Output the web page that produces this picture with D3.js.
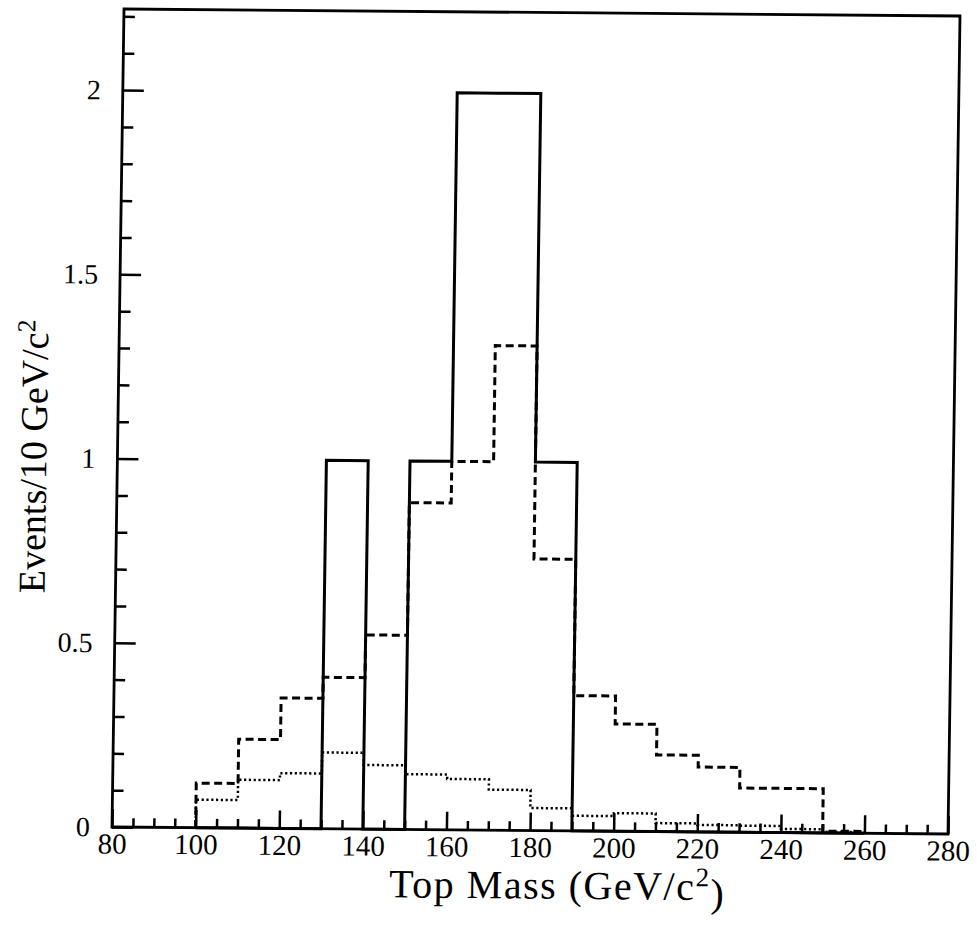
<!DOCTYPE html>
<html>
<head>
<meta charset="utf-8">
<script src="https://cdn.jsdelivr.net/npm/d3@7"></script>
<style>
  body { margin: 0; background: #fff; }
  text { font-family: "Liberation Serif", "DejaVu Serif", serif; fill: #000; }
</style>
</head>
<body>
<div id="chart"></div>
<script>
// Bins of 10 GeV/c^2, given by their lower edge.
const binStarts = [100, 110, 120, 130, 140, 150, 160, 170, 180, 190, 200, 210, 220, 230, 240, 250];

// Solid histogram (observed events).
const observed = [0, 0, 0, 1, 0, 1, 2, 2, 1, 0, 0, 0, 0, 0, 0, 0];

// Dashed histogram.
const dashedSeries = [0.121, 0.241, 0.354, 0.411, 0.527, 0.887, 1.0, 1.315, 0.737, 0.367, 0.291, 0.208, 0.176, 0.12, 0.12, 0.005];

// Dotted histogram.
const dottedSeries = [0.076, 0.131, 0.150, 0.207, 0.174, 0.150, 0.138, 0.110, 0.061, 0.041, 0.049, 0.023, 0.019, 0.018, 0.010, 0.003];

// Axis ticks and labels.
const xMajorTicks = [80, 100, 120, 140, 160, 180, 200, 220, 240, 260, 280];
const yMajorTicks = [0, 0.5, 1, 1.5, 2];
const yTickLabels = ['0', '0.5', '1', '1.5', '2'];

const binWidth = 10;
const width = 977, height = 935;
const plotW = 836, plotH = 818;

const svg = d3.select('#chart')
    .append('svg')
    .attr('width', width)
    .attr('height', height);

// The scanned figure is slightly skewed, so the whole plot sits in a sheared group.
const g = svg.append('g')
    .attr('transform', 'matrix(1,0.00837,-0.01467,1,124,9)');

const x = d3.scaleLinear().domain([80, 280]).range([0, plotW]);
const y = d3.scaleLinear().domain([0, 2.22]).range([plotH, 0]);

// Minor x ticks every 5 GeV
g.append('g')
    .attr('transform', `translate(0,${plotH})`)
    .call(d3.axisBottom(x)
        .tickValues(d3.range(85, 280, 5).filter(v => v % 20 !== 0))
        .tickSize(-9)
        .tickFormat(''))
    .call(a => a.select('.domain').remove())
    .call(a => a.selectAll('line').attr('stroke-width', 2.5));

// Major x ticks + labels
g.append('g')
    .attr('transform', `translate(0,${plotH})`)
    .call(d3.axisBottom(x)
        .tickValues(xMajorTicks)
        .tickSize(-18)
        .tickPadding(6)
        .tickFormat(d3.format('d')))
    .call(a => a.select('.domain').remove())
    .call(a => a.selectAll('line').attr('stroke-width', 2.5))
    .call(a => a.selectAll('text')
        .attr('font-size', 29)
        .attr('font-family', '"Liberation Serif", serif'));

// Minor y ticks every 0.1
g.append('g')
    .call(d3.axisLeft(y)
        .tickValues(d3.range(1, 23).map(v => v / 10).filter(v => Math.abs(v * 2 - Math.round(v * 2)) > 1e-6))
        .tickSize(-11)
        .tickFormat(''))
    .call(a => a.select('.domain').remove())
    .call(a => a.selectAll('line').attr('stroke-width', 2.5));

// Major y ticks + labels
g.append('g')
    .call(d3.axisLeft(y)
        .tickValues(yMajorTicks)
        .tickSize(-21)
        .tickPadding(22)
        .tickFormat((d, i) => yTickLabels[i]))
    .call(a => a.select('.domain').remove())
    .call(a => a.selectAll('line').attr('stroke-width', 2.5))
    .call(a => a.selectAll('text')
        .attr('font-size', 28)
        .attr('font-family', '"Liberation Serif", serif'));

// Frame
g.append('rect')
    .attr('x', 0)
    .attr('y', 0)
    .attr('width', plotW)
    .attr('height', plotH)
    .attr('fill', 'none')
    .attr('stroke', '#000')
    .attr('stroke-width', 2.8);

// Build a histogram outline from bin values
function stepPoints(values) {
    const pts = [[binStarts[0], 0]];
    values.forEach((v, i) => {
        pts.push([binStarts[i], v]);
        pts.push([binStarts[i] + binWidth, v]);
    });
    pts.push([binStarts[binStarts.length - 1] + binWidth, 0]);
    return pts;
}

const line = d3.line()
    .x(d => x(d[0]))
    .y(d => y(d[1]));

g.append('path')
    .attr('d', line(stepPoints(dottedSeries)))
    .attr('fill', 'none')
    .attr('stroke', '#000')
    .attr('stroke-width', 2.5)
    .attr('stroke-dasharray', '2.2,2.6');

g.append('path')
    .attr('d', line(stepPoints(dashedSeries)))
    .attr('fill', 'none')
    .attr('stroke', '#000')
    .attr('stroke-width', 3)
    .attr('stroke-dasharray', '8,4.5');

g.append('path')
    .attr('d', line(stepPoints(observed)))
    .attr('fill', 'none')
    .attr('stroke', '#000')
    .attr('stroke-width', 3);

// Axis titles
const xTitle = g.append('text')
    .attr('x', 446)
    .attr('y', 886)
    .attr('text-anchor', 'middle')
    .attr('letter-spacing', 1.5)
    .attr('font-size', 40);
xTitle.append('tspan').text('Top Mass (GeV/c');
xTitle.append('tspan').attr('dy', '-0.5em').attr('font-size', 27).text('2');
xTitle.append('tspan').attr('dy', '0.5em').text(')');

const yTitle = g.append('text')
    .attr('transform', 'translate(-71,448) rotate(-90)')
    .attr('text-anchor', 'middle')
    .attr('font-size', 38);
yTitle.append('tspan').text('Events/10 GeV/c');
yTitle.append('tspan').attr('dy', '-0.5em').attr('font-size', 26).text('2');
</script>
</body>
</html>
